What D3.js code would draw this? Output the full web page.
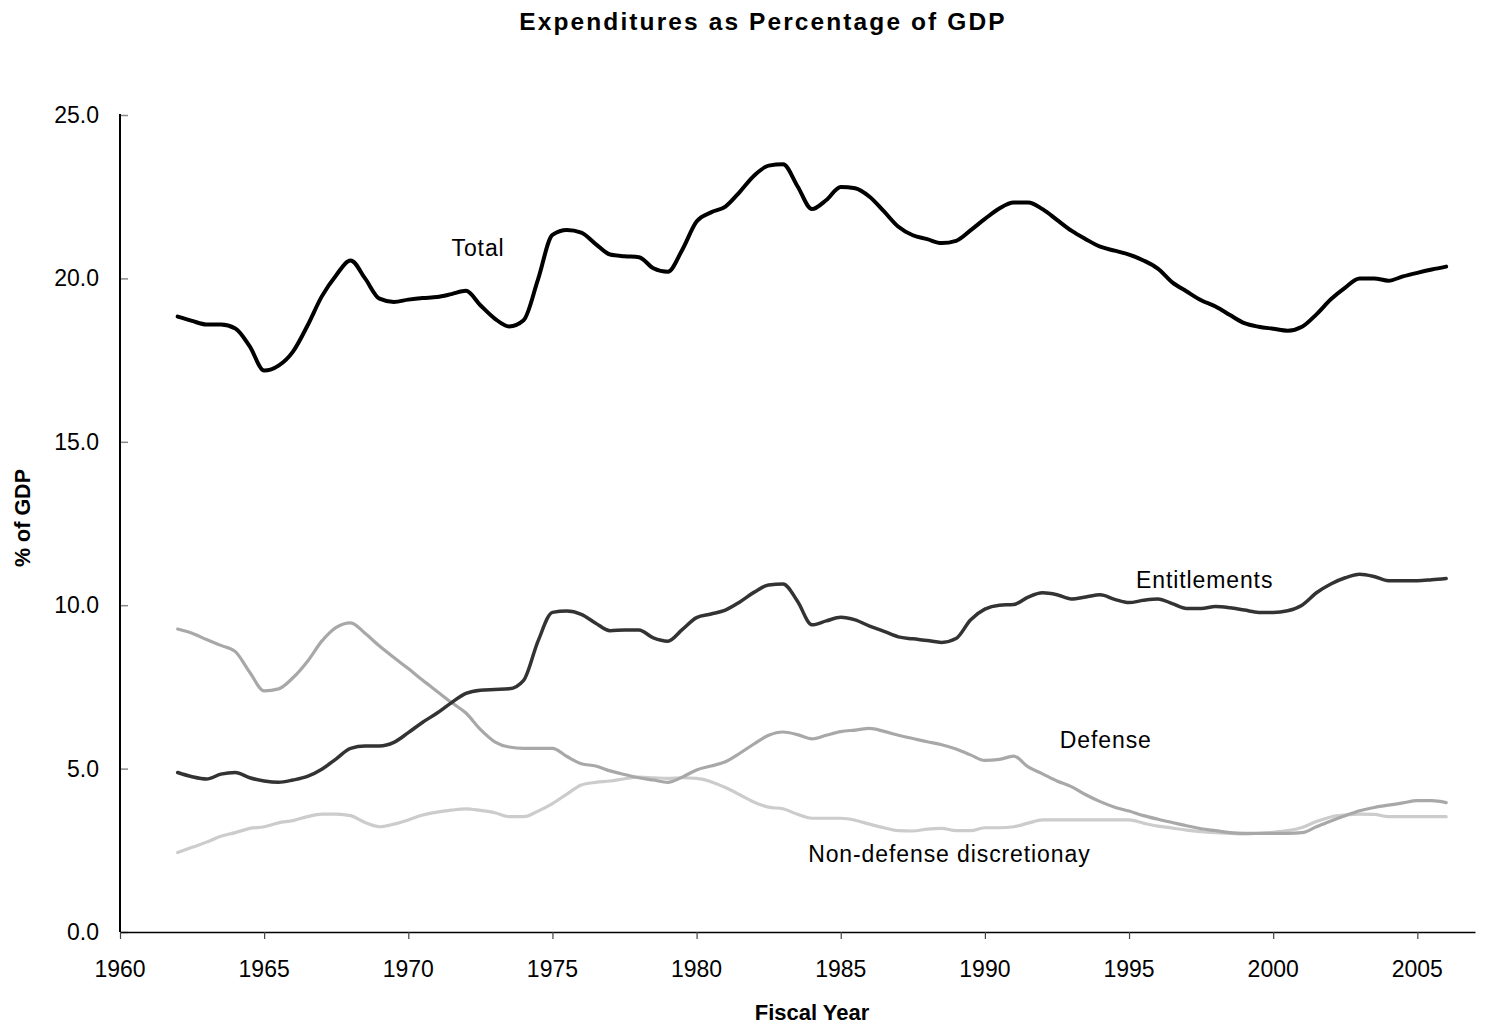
<!DOCTYPE html>
<html>
<head>
<meta charset="utf-8">
<script src="https://cdn.jsdelivr.net/npm/d3@7"></script>
<style>
  html, body { margin: 0; padding: 0; background: #fff; }
  svg { display: block; font-family: "Liberation Sans", Arial, sans-serif; }
</style>
</head>
<body>
<svg id="chart" width="1494" height="1024"></svg>
<script>
// Fiscal years, sampled every half year
const years = d3.range(1962, 2006.01, 0.5);

// Outlays as % of GDP
const total = [
  18.83, 18.70, 18.59, 18.59, 18.47, 17.92, 17.18, 17.33, 17.76, 18.55,
  19.45, 20.10, 20.55, 20.00, 19.38, 19.28, 19.35, 19.40, 19.43, 19.52,
  19.62, 19.18, 18.77, 18.53, 18.72, 19.97, 21.33, 21.48, 21.40, 21.05,
  20.73, 20.68, 20.65, 20.31, 20.20, 20.87, 21.74, 22.02, 22.20, 22.65,
  23.15, 23.45, 23.49, 22.82, 22.12, 22.40, 22.80, 22.76, 22.50, 22.05,
  21.58, 21.32, 21.20, 21.08, 21.15, 21.47, 21.82, 22.14, 22.32, 22.32,
  22.12, 21.79, 21.46, 21.20, 20.97, 20.85, 20.73, 20.55, 20.30, 19.88,
  19.60, 19.33, 19.14, 18.88, 18.63, 18.52, 18.46, 18.40, 18.52, 18.90,
  19.36, 19.72, 20.00, 20.00, 19.93, 20.06, 20.17, 20.27, 20.36
];

const entitlements = [
  4.88, 4.75, 4.68, 4.83, 4.88, 4.72, 4.62, 4.58, 4.65, 4.76,
  4.98, 5.30, 5.62, 5.69, 5.69, 5.80, 6.10, 6.42, 6.70, 7.02,
  7.30, 7.40, 7.42, 7.44, 7.70, 8.90, 9.78, 9.82, 9.72, 9.45,
  9.22, 9.24, 9.24, 9.00, 8.90, 9.25, 9.62, 9.73, 9.85, 10.10,
  10.40, 10.62, 10.65, 10.12, 9.40, 9.52, 9.63, 9.55, 9.36, 9.20,
  9.03, 8.97, 8.92, 8.86, 8.98, 9.55, 9.88, 10.00, 10.02, 10.25,
  10.38, 10.32, 10.19, 10.25, 10.32, 10.18, 10.08, 10.15, 10.19, 10.05,
  9.90, 9.90, 9.96, 9.92, 9.85, 9.78, 9.78, 9.83, 10.00, 10.38,
  10.65, 10.84, 10.95, 10.88, 10.75, 10.75, 10.75, 10.78, 10.82
];

const defense = [
  9.27, 9.14, 8.95, 8.77, 8.58, 7.95, 7.38, 7.44, 7.78, 8.28,
  8.90, 9.32, 9.46, 9.14, 8.75, 8.40, 8.06, 7.70, 7.36, 7.02,
  6.70, 6.20, 5.82, 5.66, 5.62, 5.62, 5.62, 5.37, 5.15, 5.08,
  4.93, 4.82, 4.72, 4.65, 4.58, 4.74, 4.96, 5.08, 5.21, 5.47,
  5.76, 6.02, 6.12, 6.04, 5.91, 6.02, 6.13, 6.18, 6.23, 6.14,
  6.02, 5.92, 5.82, 5.73, 5.60, 5.42, 5.25, 5.28, 5.38, 5.05,
  4.84, 4.62, 4.45, 4.20, 3.99, 3.82, 3.70, 3.56, 3.45, 3.35,
  3.25, 3.16, 3.10, 3.04, 3.02, 3.02, 3.02, 3.02, 3.04, 3.22,
  3.40, 3.56, 3.71, 3.81, 3.88, 3.95, 4.02, 4.02, 3.96
];

const nonDefense = [
  2.43, 2.59, 2.75, 2.93, 3.04, 3.17, 3.22, 3.34, 3.41, 3.53,
  3.61, 3.61, 3.56, 3.35, 3.22, 3.30, 3.43, 3.58, 3.67, 3.73,
  3.77, 3.72, 3.65, 3.53, 3.53, 3.70, 3.93, 4.22, 4.50, 4.58,
  4.62, 4.69, 4.74, 4.72, 4.70, 4.72, 4.70, 4.60, 4.42, 4.20,
  3.97, 3.82, 3.77, 3.60, 3.48, 3.48, 3.48, 3.42, 3.30, 3.19,
  3.10, 3.09, 3.15, 3.17, 3.10, 3.10, 3.19, 3.19, 3.22, 3.33,
  3.43, 3.43, 3.43, 3.43, 3.43, 3.43, 3.43, 3.33, 3.24, 3.18,
  3.12, 3.07, 3.04, 3.02, 3.00, 3.02, 3.05, 3.10, 3.20, 3.38,
  3.52, 3.58, 3.61, 3.60, 3.53, 3.53, 3.53, 3.53, 3.53
];

const yTicks = [0, 5, 10, 15, 20, 25];
const xTicks = [1960, 1965, 1970, 1975, 1980, 1985, 1990, 1995, 2000, 2005];

const seriesNames = ["Total", "Entitlements", "Defense", "Non-defense discretionay"];
const seriesValues = [total, entitlements, defense, nonDefense];
const seriesColors = ["#000000", "#333333", "#a8a8a8", "#cccccc"];
const seriesWidths = [4, 3.5, 3.2, 3.2];
// Where each series name sits: [year, value] of the text's left baseline
const labelAnchors = [[1971.5, 20.69], [1995.24, 10.53], [1992.6, 5.63], [1983.87, 2.14]];

const svg = d3.select("#chart");
const plotLeft = 120, plotRight = 1475, plotTop = 115, plotBottom = 932;

const x = d3.scaleLinear().domain([1960, 2007]).range([plotLeft, plotRight]);
const y = d3.scaleLinear().domain([0, 25]).range([plotBottom, plotTop]);

// Title
svg.append("text")
  .attr("x", 763).attr("y", 30)
  .attr("text-anchor", "middle")
  .attr("font-size", 24.5).attr("font-weight", "bold")
  .attr("letter-spacing", 2.1)
  .text("Expenditures as Percentage of GDP");

// Y axis
const yAxis = svg.append("g")
  .attr("transform", `translate(${plotLeft},0)`)
  .call(d3.axisRight(y).tickValues(yTicks).tickSize(8).tickFormat(() => ""));
yAxis.select(".domain").remove();
yAxis.selectAll(".tick line").attr("stroke", "#888").attr("stroke-width", 1.5);
svg.append("line")
  .attr("x1", plotLeft).attr("x2", plotLeft)
  .attr("y1", y(25) - 1).attr("y2", plotBottom)
  .attr("stroke", "#000").attr("stroke-width", 2);

svg.append("g").selectAll("text")
  .data(yTicks)
  .join("text")
  .attr("x", 99).attr("y", d => y(d) + 8)
  .attr("text-anchor", "end")
  .attr("font-size", 23)
  .text(d => d3.format(".1f")(d));

// X axis
const xAxis = svg.append("g")
  .attr("transform", `translate(0,${plotBottom})`)
  .call(d3.axisBottom(x).tickValues(xTicks).tickSize(7).tickSizeOuter(0).tickFormat(() => ""));
xAxis.select(".domain").attr("stroke", "#000").attr("stroke-width", 1.6);
xAxis.selectAll(".tick line").attr("stroke", "#444").attr("stroke-width", 1.2);

svg.append("g").selectAll("text")
  .data(xTicks)
  .join("text")
  .attr("x", d => x(d)).attr("y", 977)
  .attr("text-anchor", "middle")
  .attr("font-size", 23)
  .text(d => d);

// Axis titles
svg.append("text")
  .attr("x", 812).attr("y", 1020)
  .attr("text-anchor", "middle")
  .attr("font-size", 22).attr("font-weight", "bold")
  .text("Fiscal Year");

svg.append("text")
  .attr("transform", "translate(30,518) rotate(-90)")
  .attr("text-anchor", "middle")
  .attr("font-size", 21.5).attr("font-weight", "bold")
  .text("% of GDP");

// Lines, lightest first so the darker series sit on top
const line = d3.line()
  .x(d => x(d[0]))
  .y(d => y(d[1]))
  .curve(d3.curveMonotoneX);

const order = [3, 2, 1, 0];
svg.append("g").selectAll("path")
  .data(order)
  .join("path")
  .attr("d", i => line(years.map((yr, k) => [yr, seriesValues[i][k]])))
  .attr("fill", "none")
  .attr("stroke", i => seriesColors[i])
  .attr("stroke-width", i => seriesWidths[i])
  .attr("stroke-linejoin", "round")
  .attr("stroke-linecap", "round");

// Series names
svg.append("g").selectAll("text")
  .data(seriesNames)
  .join("text")
  .attr("x", (d, i) => x(labelAnchors[i][0]))
  .attr("y", (d, i) => y(labelAnchors[i][1]))
  .attr("font-size", 23)
  .attr("letter-spacing", 0.9)
  .text(d => d);
</script>
</body>
</html>
